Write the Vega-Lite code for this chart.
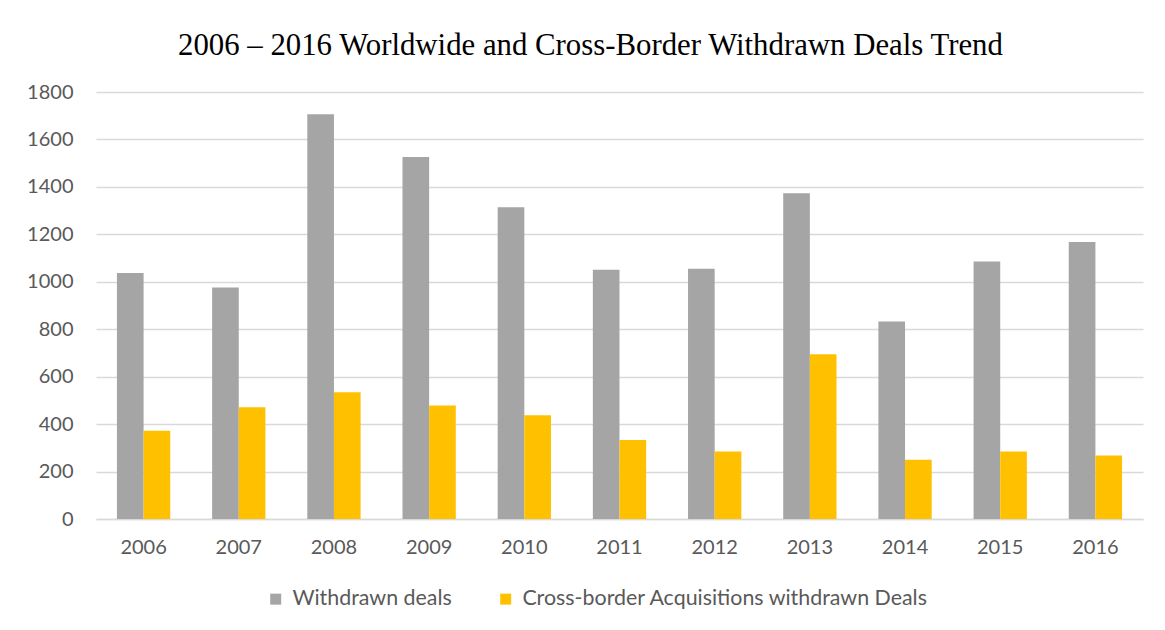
{
  "$schema": "https://vega.github.io/schema/vega-lite/v6.json",
  "autosize": "none",
  "width": 1047,
  "height": 427,
  "padding": {"left": 96, "top": 92, "right": 22, "bottom": 111},
  "background": "white",
  "title": {
    "text": "2006 – 2016 Worldwide and Cross-Border Withdrawn Deals Trend",
    "font": "Liberation Serif",
    "fontSize": 30.8,
    "fontWeight": "normal",
    "color": "#000000",
    "anchor": "start",
    "frame": "group",
    "dx": 82,
    "baseline": "alphabetic",
    "offset": -4
  },
  "data": {
    "values": [
      {"year": "2006", "series": "Withdrawn deals", "value": 1037},
      {"year": "2007", "series": "Withdrawn deals", "value": 976},
      {"year": "2008", "series": "Withdrawn deals", "value": 1706},
      {"year": "2009", "series": "Withdrawn deals", "value": 1526},
      {"year": "2010", "series": "Withdrawn deals", "value": 1314},
      {"year": "2011", "series": "Withdrawn deals", "value": 1051},
      {"year": "2012", "series": "Withdrawn deals", "value": 1055},
      {"year": "2013", "series": "Withdrawn deals", "value": 1373},
      {"year": "2014", "series": "Withdrawn deals", "value": 833},
      {"year": "2015", "series": "Withdrawn deals", "value": 1086},
      {"year": "2016", "series": "Withdrawn deals", "value": 1168},
      {"year": "2006", "series": "Cross-border Acquisitions withdrawn Deals", "value": 372},
      {"year": "2007", "series": "Cross-border Acquisitions withdrawn Deals", "value": 471},
      {"year": "2008", "series": "Cross-border Acquisitions withdrawn Deals", "value": 534},
      {"year": "2009", "series": "Cross-border Acquisitions withdrawn Deals", "value": 478},
      {"year": "2010", "series": "Cross-border Acquisitions withdrawn Deals", "value": 437},
      {"year": "2011", "series": "Cross-border Acquisitions withdrawn Deals", "value": 333},
      {"year": "2012", "series": "Cross-border Acquisitions withdrawn Deals", "value": 285},
      {"year": "2013", "series": "Cross-border Acquisitions withdrawn Deals", "value": 694},
      {"year": "2014", "series": "Cross-border Acquisitions withdrawn Deals", "value": 250},
      {"year": "2015", "series": "Cross-border Acquisitions withdrawn Deals", "value": 285},
      {"year": "2016", "series": "Cross-border Acquisitions withdrawn Deals", "value": 268}
    ]
  },
  "mark": {"type": "bar"},
  "encoding": {
    "x": {
      "field": "year",
      "type": "nominal",
      "scale": {"paddingInner": 0.44, "paddingOuter": 0.22},
      "axis": {
        "title": null,
        "labelAngle": 0,
        "labelFont": "Lato",
        "labelFontSize": 20,
        "labelColor": "#595959",
        "labelPadding": 18,
        "ticks": false,
        "domain": true,
        "domainColor": "#D9D9D9",
        "domainWidth": 1.5,
        "grid": false
      }
    },
    "xOffset": {
      "field": "series",
      "type": "nominal",
      "sort": ["Withdrawn deals", "Cross-border Acquisitions withdrawn Deals"],
      "scale": {"paddingInner": 0, "paddingOuter": 0}
    },
    "y": {
      "field": "value",
      "type": "quantitative",
      "scale": {"domain": [0, 1800], "nice": false},
      "axis": {
        "title": null,
        "format": "d",
        "values": [0, 200, 400, 600, 800, 1000, 1200, 1400, 1600, 1800],
        "labelFont": "Lato",
        "labelFontSize": 20,
        "labelColor": "#595959",
        "labelPadding": 23,
        "ticks": false,
        "domain": false,
        "grid": true,
        "gridColor": "#D9D9D9",
        "gridWidth": 1.5
      }
    },
    "color": {
      "field": "series",
      "type": "nominal",
      "scale": {
        "domain": ["Withdrawn deals", "Cross-border Acquisitions withdrawn Deals"],
        "range": ["#A5A5A5", "#FFC000"]
      },
      "legend": {
        "title": null,
        "orient": "none",
        "direction": "horizontal",
        "legendX": 169,
        "legendY": 496,
        "padding": 0,
        "symbolType": "square",
        "symbolSize": 121,
        "symbolStrokeWidth": 0,
        "labelFont": "Lato",
        "labelFontSize": 21.4,
        "labelColor": "#595959",
        "labelOffset": 6,
        "columnPadding": 43,
        "labelLimit": 600
      }
    }
  },
  "config": {"view": {"stroke": null}}
}
